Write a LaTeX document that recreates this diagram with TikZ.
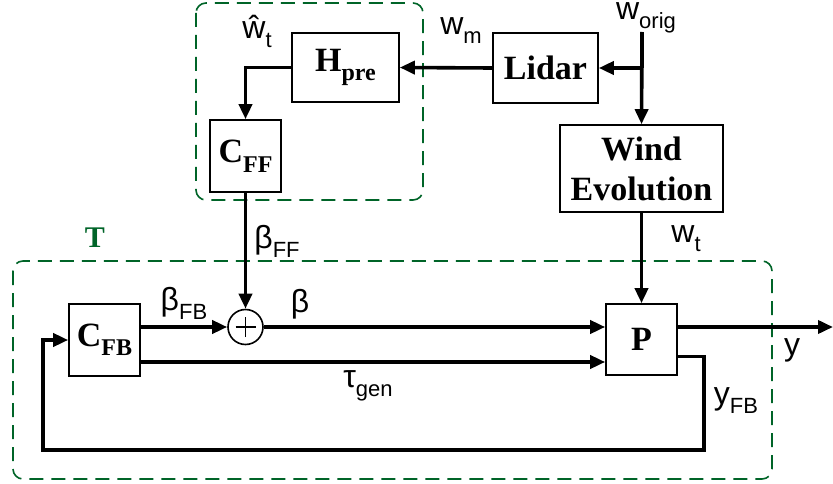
\documentclass[tikz,border=0pt]{standalone}
\usepackage{fontspec}
\setmainfont{Liberation Serif}
\setsansfont{Liberation Sans}
\usetikzlibrary{arrows.meta}

\definecolor{grpgreen}{RGB}{0,100,40}
\newcommand\dn[2][24]{\raisebox{-.28em}{\fontsize{#1}{#1}\selectfont #2}}

\begin{document}
\begin{tikzpicture}[x=1pt,y=-1pt]
\tikzstyle{block}=[draw,line width=1.6pt,fill=white,inner sep=0pt,font=\fontsize{34}{40}\selectfont\bfseries]
\tikzstyle{sum}=[draw,circle,line width=1.6pt,minimum size=35pt,inner sep=0pt,
  path picture={\draw[line width=1.2pt] ([xshift=-10pt]path picture bounding box.center) -- ([xshift=10pt]path picture bounding box.center)
    ([yshift=-10pt]path picture bounding box.center) -- ([yshift=10pt]path picture bounding box.center);}]
\tikzstyle{sig}=[line width=3.6pt]
\tikzstyle{arr}=[sig,-{Triangle[length=15pt,width=13pt]}]
\tikzstyle{lbl}=[inner sep=0pt,font=\sffamily\fontsize{32}{32}\selectfont]
\tikzstyle{group}=[draw=grpgreen,line width=1.6pt,dash pattern=on 14pt off 8pt,rounded corners=10pt]

\useasboundingbox (0,0) rectangle (833,484);

% Group frames
\draw[group] (196,3) rectangle (423,200);
\draw[group] (13,261) rectangle (772,479);
\node[inner sep=0pt,text=grpgreen,font=\fontsize{30}{30}\selectfont\bfseries] (tlabel) at (95,238) {T};

% Draw the blocks
\node[block,minimum width=107pt,minimum height=69pt] (hpre) at (345.5,67.5) {H\dn{pre}};
\node[block,minimum width=105pt,minimum height=70pt] (lidar) at (545.5,68) {Lidar};
\node[block,minimum width=163pt,minimum height=87pt,align=center] (wind) at (641.5,168.5) {Wind\\Evolution};
\node[block,minimum width=71pt,minimum height=72pt] (cff) at (245.5,156) {C\dn{FF}};
\node[sum] (sum) at (245.5,327) {};
\node[block,minimum width=71pt,minimum height=72pt] (cfb) at (104.5,340) {C\dn{FB}};
\node[block,minimum width=71pt,minimum height=71pt] (p) at (641.5,339.5) {P};

% Free ends and corners
\coordinate (win) at (642,32);
\coordinate (tau) at ([yshift=-22pt]cfb.east);
\coordinate (yfb) at ([yshift=-17pt]p.east);
\coordinate (fbr) at (704,450);
\coordinate (fbl) at (43,450);
\coordinate (yout) at (833,327);

% Feedforward path
\draw[sig] (win) -- (win |- lidar);
\draw[arr] (win |- lidar) -- (lidar.east);
\draw[arr] (win) -- (wind.north);
\draw[arr] (lidar.west) -- (hpre.east);
\draw[arr] (hpre.west) -| (cff.north);
\draw[arr] (cff.south) -- (sum.north);
\draw[arr] (wind.south) -- (p.north);

% Feedback loop
\draw[arr] (cfb.east |- sum.west) -- (sum.west);
\draw[arr] (sum.east) -- (sum -| p.west);
\draw[arr] (tau) -- (tau -| p.west);
\draw[arr] (p.east |- yout) -- (yout);
\draw[arr] (yfb) -| (fbr) -- (fbl) |- (cfb.west);

% Signal names
\node[lbl] (what) at (257,31) {ŵ\dn[22]{t}};
\node[lbl] (wm) at (461,31) {w\dn[22]{m}};
\node[lbl] (worig) at (646,18) {w\dn[22]{orig}};
\node[lbl] (bff) at (277,241) {β\dn[22]{FF}};
\node[lbl] (wt) at (686,239) {w\dn[22]{t}};
\node[lbl] (bfb) at (184,303) {β\dn[22]{FB}};
\node[lbl] (beta) at (300,304) {β};
\node[lbl] (tgen) at (368,386) {τ\dn[22]{gen}};
\node[lbl] (ylbl) at (792,350) {y};
\node[lbl] (yfblbl) at (736,401) {y\dn[22]{FB}};

\end{tikzpicture}
\end{document}
